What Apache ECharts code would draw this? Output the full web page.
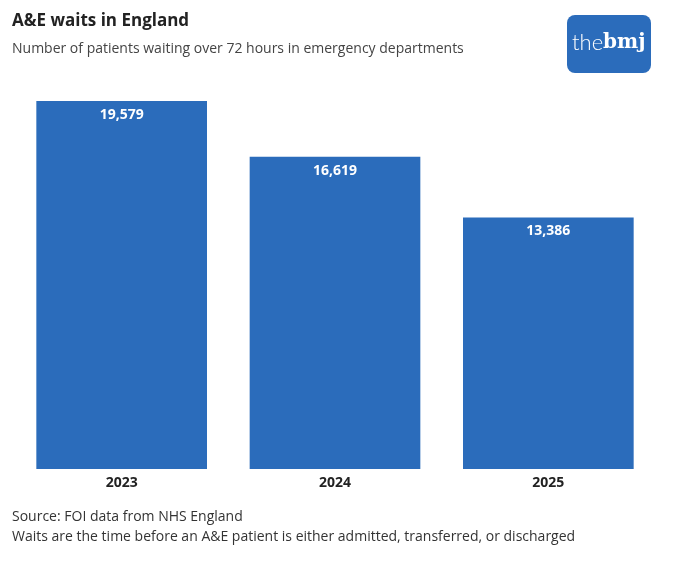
<!DOCTYPE html>
<html>
<head>
<meta charset="utf-8">
<script src="https://cdn.jsdelivr.net/npm/echarts@6/dist/echarts.min.js"></script>
<style>
  html, body { margin: 0; padding: 0; background: #fff; }
  #chart { width: 680px; height: 566px; }
</style>
</head>
<body>
<div id="chart"></div>
<script>
// data
var years = ['2023', '2024', '2025'];
var waits = [19579, 16619, 13386];

var barColor = '#2b6cbb';
var font = '"Open Sans", "Noto Sans", sans-serif';

var chart = echarts.init(document.getElementById('chart'));

var option = {
    animation: false,
    backgroundColor: '#fff',
    title: [
        {
            text: 'A&E waits in England',
            left: 12, top: 13, padding: 0,
            textStyle: { fontFamily: font, fontSize: 17, fontWeight: 'bold', color: '#222' }
        },
        {
            text: 'Number of patients waiting over 72 hours in emergency departments',
            left: 12, top: 42, padding: 0,
            textStyle: { fontFamily: font, fontSize: 14, fontWeight: 'normal', color: '#444' }
        }
    ],
    grid: { left: 15, right: 25, top: 101, bottom: 97 },
    xAxis: {
        type: 'category',
        data: years,
        axisLine: { show: false },
        axisTick: { show: false },
        axisLabel: {
            margin: 7,
            fontFamily: font, fontSize: 14, fontWeight: 'bold', color: '#222'
        }
    },
    yAxis: {
        type: 'value',
        min: 0,
        max: 19579,
        show: false
    },
    series: [{
        type: 'bar',
        data: waits,
        barCategoryGap: '20%',
        itemStyle: { color: barColor },
        label: {
            show: true,
            position: 'insideTop',
            distance: 7,
            color: '#fff',
            fontFamily: font,
            fontSize: 14,
            fontWeight: 'bold',
            formatter: function (p) { return p.value.toLocaleString('en-GB'); }
        }
    }],
    graphic: [
        {
            type: 'rect',
            shape: { x: 567, y: 15, width: 84, height: 58, r: 8 },
            style: { fill: barColor }
        },
        {
            type: 'text',
            x: 572, y: 43,
            style: {
                text: '{a|the}{b|bmj}',
                verticalAlign: 'middle',
                rich: {
                    a: { fontFamily: 'Lato, sans-serif', fontSize: 22, fontWeight: 300, fill: '#fff', color: '#fff' },
                    b: { fontFamily: '"DejaVu Serif", serif', fontSize: 20, fontWeight: 'bold', fill: '#fff', color: '#fff' }
                }
            }
        },
        {
            type: 'text',
            left: 12, top: 507,
            style: {
                text: 'Source: FOI data from NHS England\nWaits are the time before an A&E patient is either admitted, transferred, or discharged',
                fontFamily: font, fontSize: 14, lineHeight: 20, fill: '#333'
            }
        }
    ]
};

chart.setOption(option);
</script>
</body>
</html>
